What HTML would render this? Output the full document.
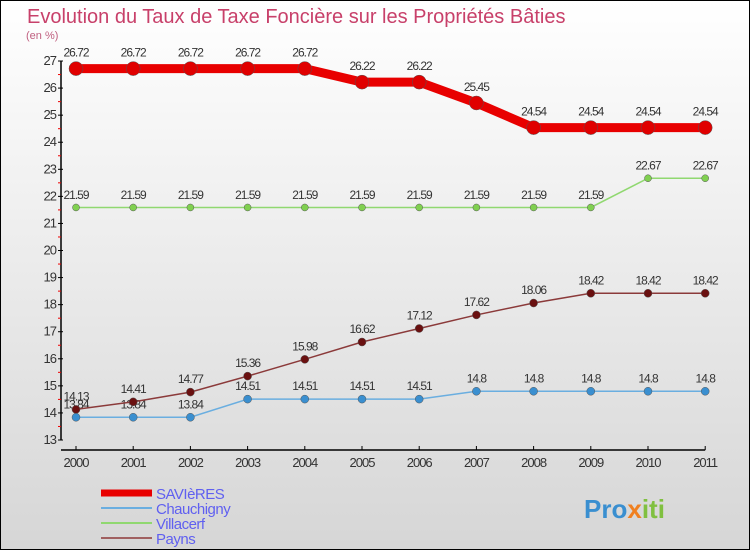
<!DOCTYPE html>
<html><head><meta charset="utf-8"><style>
body{margin:0}
#c{width:748px;height:548px;border:1px solid #000;background:linear-gradient(#fff,#d6d6d6);position:relative;overflow:hidden;font-family:"Liberation Sans",sans-serif}
</style></head><body>
<div id="c">
<svg id="s" width="748" height="548"></svg>
</div>
<script>
const years=["2000","2001","2002","2003","2004","2005","2006","2007","2008","2009","2010","2011"];
const savieres=[26.72,26.72,26.72,26.72,26.72,26.22,26.22,25.45,24.54,24.54,24.54,24.54];
const chauchigny=[13.84,13.84,13.84,14.51,14.51,14.51,14.51,14.8,14.8,14.8,14.8,14.8];
const villacerf=[21.59,21.59,21.59,21.59,21.59,21.59,21.59,21.59,21.59,21.59,22.67,22.67];
const payns=[14.13,14.41,14.77,15.36,15.98,16.62,17.12,17.62,18.06,18.42,18.42,18.42];
const yTicks=[13,14,15,16,17,18,19,20,21,22,23,24,25,26,27];
const NS="http://www.w3.org/2000/svg",s=document.getElementById('s');
const X=i=>75+i*57.2, Y=v=>439-(v-13)*27.07;
function el(t,a,txt){const e=document.createElementNS(NS,t);for(const k in a)e.setAttribute(k,a[k]);if(txt!==undefined)e.textContent=txt;s.appendChild(e);return e;}
let e;
e=el('text',{x:26,y:22,fill:'#c8406a','font-size':20},'Evolution du Taux de Taxe Foncière sur les Propriétés Bâties');

e=el('text',{x:25,y:38,fill:'#c06080','font-size':11},'(en %)');

e=el('line',{x1:60,y1:Y(27),x2:60,y2:Y(13),stroke:'#000','stroke-width':1.5});

e=el('line',{x1:60,y1:449,x2:X(11),y2:449,stroke:'#000','stroke-width':1.5});

yTicks.forEach(v=>{
 e=el('line',{x1:57,y1:Y(v),x2:62,y2:Y(v),stroke:'#000'});
 
 if(v<27){e=el('line',{x1:57,y1:Y(v+0.5),x2:60,y2:Y(v+0.5),stroke:'#e00'});
 }
 e=el('text',{x:55,y:Y(v)+4,'text-anchor':'end','font-size':13,fill:'#333','letter-spacing':-1},String(v));
 
});
years.forEach((y,i)=>{
 e=el('line',{x1:X(i),y1:445,x2:X(i),y2:449,stroke:'#000'});
 
 e=el('text',{x:X(i),y:466,'text-anchor':'middle','font-size':13,fill:'#333','letter-spacing':-1},y);
 
});
function series(name,data,color,w,r,dot){
 e=el('polyline',{points:data.map((v,i)=>X(i)+','+Y(v)).join(' '),fill:'none',stroke:color,'stroke-width':w});
 
 data.forEach((v,i)=>{
  e=el('circle',{cx:X(i),cy:Y(v),r:r,fill:dot,stroke:'#555','stroke-width':0.5});
  
  e=el('text',{x:X(i),y:Y(v)-(r+5),'text-anchor':'middle','font-size':12,fill:'#333','letter-spacing':-1},String(v));
  
 });
}
series('chauchigny',chauchigny,'#6aaee0',1.5,4,'#3a8fd0');
series('payns',payns,'#8b3a3a',1.5,4,'#6a1010');
series('villacerf',villacerf,'#90d870',1.5,3.5,'#80d050');
series('savieres',savieres,'#e80000',9,7,'#e00000');
const leg=[['SAVIèRES','#e80000',7],['Chauchigny','#6aaee0',2],['Villacerf','#90d870',2],['Payns','#a06060',2]];
leg.forEach((l,i)=>{
 const y=492+i*15;
 e=el('line',{x1:100,y1:y,x2:151,y2:y,stroke:l[1],'stroke-width':l[2]});
 
 e=el('text',{x:155,y:y+6,'font-size':15,fill:'#6060f0','letter-spacing':-0.5},l[0]);
 
});
e=el('text',{x:583,y:517,'font-size':26,'font-weight':'bold',fill:'#3a8fd0'});

e.innerHTML='<tspan fill="#3a8fd0">Pro</tspan><tspan fill="#f08020">x</tspan><tspan fill="#80c040">iti</tspan>';
</script>
</body></html>
